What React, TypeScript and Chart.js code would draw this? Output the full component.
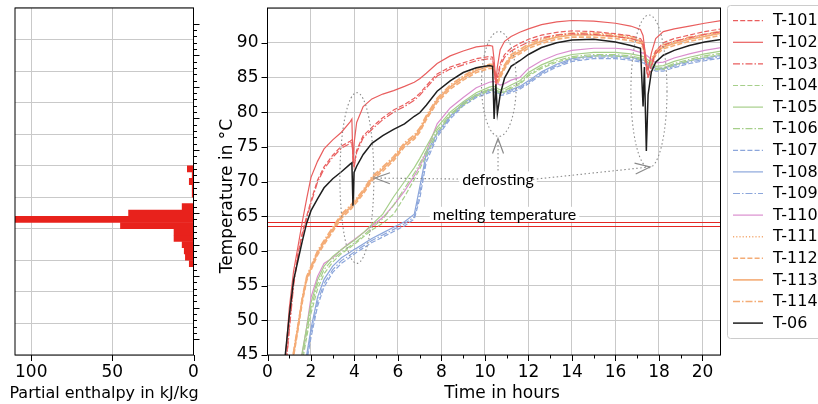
import React, { useEffect, useRef } from "react";
import { Chart, registerables } from "chart.js";
Chart.register(...registerables);

// ---------- DATA ----------
const hours = [0.5, 0.8, 1.0, 1.2, 1.4, 1.6, 1.8, 2.0, 2.3, 2.6, 3.0, 3.4, 3.8, 3.88, 3.93, 3.98, 4.1, 4.4, 4.8, 5.3, 5.8, 6.3, 6.75, 7.0, 7.3, 7.8, 8.4, 9.0, 9.6, 10.2, 10.35, 10.42, 10.5, 10.57, 10.7, 10.9, 11.2, 11.6, 12.0, 12.6, 13.3, 14.0, 15.0, 16.0, 16.7, 17.15, 17.27, 17.33, 17.42, 17.5, 17.65, 17.85, 18.2, 18.7, 19.4, 20.1, 20.9];

const t101 = [28, 42, 49, 55.5, 59.6, 62.6, 65.0, 67.2, 70.2, 72.1, 73.8, 75.1, 75.8, 76.0, 74.0, 72.3, 74.5, 76.6, 77.8, 79.2, 80.3, 81.1, 82.0, 82.7, 83.8, 85.5, 86.5, 87.1, 87.7, 88.0, 87.9, 86.5, 84.0, 85.0, 87.0, 88.3, 89.2, 89.9, 90.5, 91.1, 91.5, 91.7, 91.6, 91.3, 91.0, 90.6, 90.0, 88.8, 86.5, 85.0, 86.8, 88.8, 90.0, 90.6, 91.1, 91.6, 92.0];
const t102 = [30, 43.5, 51.7, 57.1, 60.6, 64.2, 67.5, 70.6, 72.9, 74.7, 76.0, 77.1, 78.6, 79.0, 72.5, 75.5, 78.5, 80.8, 81.9, 82.6, 83.1, 83.7, 84.3, 84.8, 85.6, 87.0, 88.1, 88.8, 89.4, 89.6, 89.5, 87.5, 84.3, 86.5, 89.0, 90.2, 90.9, 91.5, 92.0, 92.6, 93.0, 93.2, 93.1, 92.8, 92.4, 91.9, 91.0, 89.5, 87.0, 86.0, 88.5, 90.6, 91.6, 92.0, 92.4, 92.8, 93.2];
const t103 = [28, 41.5, 48.5, 55.0, 59.2, 62.3, 64.7, 66.9, 69.9, 71.8, 73.5, 74.8, 75.5, 75.7, 73.8, 72.0, 74.2, 76.3, 77.5, 78.9, 80.0, 80.8, 81.7, 82.4, 83.5, 85.2, 86.2, 86.8, 87.4, 87.7, 87.6, 86.2, 83.8, 84.7, 86.6, 87.9, 88.8, 89.5, 90.1, 90.7, 91.1, 91.3, 91.2, 90.9, 90.6, 90.2, 89.6, 88.4, 86.2, 84.8, 86.5, 88.4, 89.6, 90.2, 90.7, 91.2, 91.6];
const t104 = [18, 25, 30, 35, 39.5, 44.0, 47.5, 51.0, 54.5, 56.7, 58.4, 59.6, 60.5, 60.7, 60.8, 60.9, 61.2, 62.0, 63.0, 64.0, 65.3, 67.8, 70.3, 71.8, 73.8, 77.0, 79.5, 81.0, 82.3, 83.1, 83.2, 83.2, 83.1, 82.9, 82.7, 82.9, 83.4, 84.0, 85.2, 86.3, 87.2, 87.8, 88.1, 88.1, 87.9, 87.6, 87.5, 87.4, 87.2, 87.0, 86.6, 86.1, 86.2, 86.8, 87.4, 87.9, 88.3];
const t105 = [20, 27, 32, 37, 41, 45.5, 49.0, 52.5, 55.8, 57.8, 59.2, 60.2, 61.1, 61.3, 61.4, 61.5, 61.8, 62.6, 63.8, 65.3, 67.8, 70.0, 72.0, 73.3, 75.0, 77.8, 80.0, 81.5, 82.8, 83.6, 83.7, 83.7, 83.6, 83.4, 83.2, 83.4, 83.9, 84.5, 85.7, 86.8, 87.7, 88.3, 88.6, 88.6, 88.4, 88.1, 88.0, 87.9, 87.7, 87.5, 87.1, 86.6, 86.7, 87.3, 87.9, 88.4, 88.8];
const t106 = [19, 26, 31, 36, 40, 44.5, 48.2, 51.8, 55.2, 57.3, 58.8, 59.8, 60.7, 60.9, 61.0, 61.1, 61.4, 62.2, 63.3, 64.6, 66.6, 69.0, 71.2, 72.6, 74.4, 77.4, 79.7, 81.2, 82.5, 83.3, 83.4, 83.4, 83.3, 83.1, 82.9, 83.1, 83.6, 84.2, 85.4, 86.5, 87.4, 88.0, 88.3, 88.3, 88.1, 87.8, 87.7, 87.6, 87.4, 87.2, 86.8, 86.3, 86.4, 87.0, 87.6, 88.1, 88.5];
const t107 = [14, 21, 27, 32, 36, 40, 44, 47.5, 52.0, 54.8, 56.9, 58.2, 59.1, 59.3, 59.4, 59.5, 59.8, 60.4, 61.2, 62.0, 62.8, 63.6, 64.6, 67.5, 72.8, 76.4, 79.0, 80.9, 82.1, 82.8, 82.9, 82.9, 82.8, 82.6, 82.4, 82.5, 82.8, 83.3, 84.1, 85.4, 86.5, 87.3, 87.7, 87.7, 87.5, 87.2, 87.1, 87.0, 86.8, 86.6, 86.3, 85.9, 85.9, 86.4, 87.0, 87.4, 87.8];
const t108 = [15, 22, 28, 33, 37, 41, 45, 48.8, 53.3, 55.9, 57.8, 59.0, 59.8, 60.0, 60.1, 60.2, 60.4, 61.0, 61.8, 62.6, 63.4, 64.2, 65.3, 69.2, 74.0, 77.0, 79.4, 81.3, 82.5, 83.2, 83.3, 83.3, 83.2, 83.0, 82.8, 82.9, 83.2, 83.7, 84.5, 85.8, 86.9, 87.7, 88.1, 88.1, 87.9, 87.6, 87.5, 87.4, 87.2, 87.0, 86.7, 86.3, 86.3, 86.8, 87.4, 87.8, 88.2];
const t109 = [14.5, 21.5, 27.5, 32.5, 36.5, 40.5, 44.5, 48.1, 52.6, 55.3, 57.3, 58.6, 59.4, 59.6, 59.7, 59.8, 60.1, 60.7, 61.5, 62.3, 63.1, 63.9, 64.9, 68.3, 73.4, 76.7, 79.2, 81.1, 82.3, 83.0, 83.1, 83.1, 83.0, 82.8, 82.6, 82.7, 83.0, 83.5, 84.3, 85.6, 86.7, 87.5, 87.9, 87.9, 87.7, 87.4, 87.3, 87.2, 87.0, 86.8, 86.5, 86.1, 86.1, 86.6, 87.2, 87.6, 88.0];
const t110 = [20, 28, 33, 38, 42, 45.2, 49.0, 53.3, 56.3, 58.2, 59.0, 60.2, 61.2, 61.4, 61.5, 61.6, 61.9, 62.6, 63.6, 64.8, 66.6, 68.6, 70.8, 72.2, 74.3, 78.3, 80.6, 82.1, 83.5, 84.3, 84.4, 84.4, 84.3, 84.1, 83.9, 84.1, 84.6, 85.0, 86.3, 87.4, 88.3, 88.9, 89.2, 89.2, 89.0, 88.6, 88.5, 88.4, 88.2, 88.0, 87.6, 87.1, 87.2, 87.8, 88.4, 88.9, 89.3];
const t111 = [25, 36.2, 41.2, 45.3, 49.1, 53.1, 56.1, 57.6, 59.8, 61.3, 63.2, 65.1, 66.3, 66.6, 66.8, 67.0, 67.4, 68.6, 70.5, 71.9, 73.4, 75.4, 76.5, 77.5, 79.3, 81.8, 83.7, 85.0, 86.1, 86.7, 86.7, 86.1, 85.1, 84.4, 85.3, 86.6, 88.1, 88.8, 89.6, 90.3, 90.9, 91.2, 91.2, 91.0, 90.7, 90.3, 89.7, 88.9, 87.3, 86.6, 87.4, 88.6, 89.5, 90.0, 90.6, 91.0, 91.5];
const t112 = [24.5, 35.5, 40.5, 44.8, 48.6, 52.6, 55.7, 57.2, 59.4, 60.9, 62.8, 64.7, 65.9, 66.2, 66.4, 66.6, 67.0, 68.2, 70.1, 71.5, 73.0, 75.0, 76.1, 77.1, 78.9, 81.4, 83.3, 84.6, 85.7, 86.3, 86.3, 85.7, 84.7, 84.0, 84.9, 86.2, 87.7, 88.4, 89.2, 89.9, 90.5, 90.8, 90.8, 90.6, 90.3, 89.9, 89.3, 88.5, 86.9, 86.2, 87.0, 88.2, 89.1, 89.6, 90.2, 90.6, 91.1];
const t113 = [25, 36, 41, 45.2, 49.0, 53.0, 56.0, 57.5, 59.7, 61.2, 63.1, 65.0, 66.2, 66.5, 66.7, 66.9, 67.3, 68.5, 70.4, 71.8, 73.3, 75.3, 76.4, 77.4, 79.2, 81.7, 83.6, 84.9, 86.0, 86.6, 86.6, 86.0, 85.0, 84.3, 85.2, 86.5, 88.0, 88.7, 89.5, 90.2, 90.8, 91.1, 91.1, 90.9, 90.6, 90.2, 89.6, 88.8, 87.2, 86.5, 87.3, 88.5, 89.4, 89.9, 90.5, 90.9, 91.4];
const t114 = [25.5, 36.5, 41.5, 45.5, 49.3, 53.3, 56.3, 57.8, 60.0, 61.5, 63.4, 65.3, 66.5, 66.8, 67.0, 67.2, 67.6, 68.8, 70.7, 72.1, 73.6, 75.6, 76.7, 77.7, 79.5, 82.0, 83.9, 85.2, 86.3, 86.9, 86.9, 86.3, 85.3, 84.6, 85.5, 86.8, 88.3, 89.0, 89.8, 90.5, 91.1, 91.4, 91.4, 91.2, 90.9, 90.5, 89.9, 89.1, 87.5, 86.8, 87.6, 88.8, 89.7, 90.2, 90.8, 91.2, 91.7];
const t06 = [30, 44.5, 50.6, 55.8, 58.6, 61.4, 64.0, 65.8, 67.5, 69.1, 70.4, 71.4, 72.5, 72.7, 66.5, 71.3, 72.2, 73.9, 75.5, 76.6, 77.5, 78.3, 79.4, 79.9, 81.0, 83.0, 84.5, 85.7, 86.4, 86.7, 86.6, 79.0, 84.0, 79.8, 82.5, 84.9, 86.6, 87.4, 88.3, 89.3, 90.0, 90.4, 90.5, 90.1, 89.6, 89.2, 80.8, 86.5, 74.4, 82.5, 85.8, 87.2, 88.2, 88.9, 89.6, 90.1, 90.5];

const seriesLabels = ["T-101", "T-102", "T-103", "T-104", "T-105", "T-106", "T-107", "T-108", "T-109", "T-110", "T-111", "T-112", "T-113", "T-114", "T-06"];
const seriesValues = [t101, t102, t103, t104, t105, t106, t107, t108, t109, t110, t111, t112, t113, t114, t06];

const meltingBand = [63.65, 64.1];

const enthalpyTemps = [57, 58, 59, 60, 61, 62, 63, 64, 65, 66, 67, 68, 69, 70, 71, 72];
const enthalpyValues = [2.6, 5.0, 5.7, 7.0, 12, 12, 45, 110.5, 40, 7, 0, 0.8, 0.8, 2.6, 0.8, 3.8];

const timeTicks = [0, 2, 4, 6, 8, 10, 12, 14, 16, 18, 20];
const tempTicks = [45, 50, 55, 60, 65, 70, 75, 80, 85, 90];
const enthalpyTicks = [0, 50, 100];

// ---------- STYLES ----------
const RED = "rgb(233,94,94)";
const GREEN = "rgb(166,207,138)";
const BLUE = "rgb(140,166,219)";
const PINK = "rgb(218,142,206)";
const ORANGE = "rgb(244,172,118)";
const BLACK = "#1e1e1e";
const SOLID: number[] = [];
const DASHED = [5, 2.2];
const DASHDOT = [7, 2, 1.5, 2];
const DOTTED = [1.2, 2];
const seriesStyle = [
  { c: RED, d: DASHED, w: 1.2 },
  { c: RED, d: SOLID, w: 1.2 },
  { c: RED, d: DASHDOT, w: 1.2 },
  { c: GREEN, d: DASHED, w: 1.2 },
  { c: GREEN, d: SOLID, w: 1.2 },
  { c: GREEN, d: DASHDOT, w: 1.2 },
  { c: BLUE, d: DASHED, w: 1.2 },
  { c: BLUE, d: SOLID, w: 1.2 },
  { c: BLUE, d: DASHDOT, w: 1.2 },
  { c: PINK, d: SOLID, w: 1.2 },
  { c: ORANGE, d: DOTTED, w: 1.6 },
  { c: ORANGE, d: DASHED, w: 1.6 },
  { c: ORANGE, d: SOLID, w: 1.6 },
  { c: ORANGE, d: DASHDOT, w: 1.6 },
  { c: BLACK, d: SOLID, w: 1.5 },
];

const FONT = "'DejaVu Sans', sans-serif";
const ANNOT_FONT = "Lato, 'Open Sans', sans-serif";
const GRID = "#c9c9c9";
const ANNOT_GRAY = "#8a8a8a";

function dottedLine(ctx: CanvasRenderingContext2D, x0: number, y0: number, x1: number, y1: number) {
  ctx.save();
  ctx.setLineDash([1.5, 2.5]);
  ctx.strokeStyle = ANNOT_GRAY;
  ctx.lineWidth = 1.1;
  ctx.beginPath();
  ctx.moveTo(x0, y0);
  ctx.lineTo(x1, y1);
  ctx.stroke();
  ctx.restore();
}

function arrowHead(ctx: CanvasRenderingContext2D, x0: number, y0: number, x1: number, y1: number) {
  const ang = Math.atan2(y1 - y0, x1 - x0);
  const len = 15, half = 5.5;
  const bx = x1 - len * Math.cos(ang), by = y1 - len * Math.sin(ang);
  const px = -Math.sin(ang) * half, py = Math.cos(ang) * half;
  ctx.save();
  ctx.setLineDash([]);
  ctx.strokeStyle = ANNOT_GRAY;
  ctx.lineWidth = 1.2;
  ctx.beginPath();
  ctx.moveTo(bx + px, by + py);
  ctx.lineTo(x1, y1);
  ctx.lineTo(bx - px, by - py);
  ctx.stroke();
  ctx.restore();
}

const mainDecor = {
  id: "mainDecor",
  beforeDatasetsDraw(chart: any) {
    const { ctx, chartArea: a, scales } = chart;
    const x = scales.x, y = scales.y;
    ctx.save();
    // melting temperature band
    ctx.strokeStyle = "rgb(228,40,36)";
    ctx.lineWidth = 1;
    for (const v of meltingBand) {
      const py = Math.round(y.getPixelForValue(v)) + 0.5;
      ctx.beginPath();
      ctx.moveTo(a.left, py);
      ctx.lineTo(a.right, py);
      ctx.stroke();
    }
    // labels with white background
    ctx.font = `16px ${ANNOT_FONT}`;
    ctx.textBaseline = "middle";
    ctx.textAlign = "center";
    const labels = [
      { text: "melting temperature", cx: x.getPixelForValue(10.9), cy: y.getPixelForValue(65.2) },
      { text: "defrosting", cx: x.getPixelForValue(10.6), cy: y.getPixelForValue(70.3) },
    ];
    for (const l of labels) {
      const w = ctx.measureText(l.text).width;
      ctx.fillStyle = "#fff";
      ctx.fillRect(l.cx - w / 2 - 3, l.cy - 8, w + 6, 15);
      ctx.fillStyle = "#000";
      ctx.fillText(l.text, l.cx, l.cy);
    }
    ctx.restore();
  },
  afterDatasetsDraw(chart: any) {
    const { ctx, scales } = chart;
    const x = scales.x, y = scales.y;
    const ellipses = [
      { t: 4.11, v: 70.5, rt: 0.78, rv: 12.3 },
      { t: 10.64, v: 84.05, rt: 0.8, rv: 7.56 },
      { t: 17.54, v: 83.0, rt: 0.83, rv: 11.0 },
    ];
    ctx.save();
    ctx.setLineDash([1.5, 2.5]);
    ctx.strokeStyle = ANNOT_GRAY;
    ctx.lineWidth = 1.1;
    for (const e of ellipses) {
      const cx = x.getPixelForValue(e.t), cy = y.getPixelForValue(e.v);
      const rx = x.getPixelForValue(e.t + e.rt) - cx;
      const ry = cy - y.getPixelForValue(e.v + e.rv);
      ctx.beginPath();
      ctx.ellipse(cx, cy, rx, ry, 0, 0, Math.PI * 2);
      ctx.stroke();
    }
    ctx.restore();
    // arrows from the "defrosting" label
    const arrows = [
      { t0: 8.76, v0: 70.36, t1: 4.94, v1: 70.5 },
      { t0: 10.6, v0: 71.6, t1: 10.6, v1: 76.2 },
      { t0: 12.2, v0: 70.3, t1: 17.59, v1: 72.1 },
    ];
    for (const ar of arrows) {
      const x0 = x.getPixelForValue(ar.t0), y0 = y.getPixelForValue(ar.v0);
      const x1 = x.getPixelForValue(ar.t1), y1 = y.getPixelForValue(ar.v1);
      dottedLine(ctx, x0, y0, x1, y1);
      arrowHead(ctx, x0, y0, x1, y1);
    }
  },
  afterDraw(chart: any) {
    const { ctx, chartArea: a, scales } = chart;
    const x = scales.x, y = scales.y;
    ctx.save();
    // frame
    ctx.strokeStyle = "#000";
    ctx.lineWidth = 1;
    ctx.strokeRect(a.left, a.top, a.right - a.left, a.bottom - a.top);
    // ticks
    ctx.beginPath();
    for (let h = 0; h <= 20; h++) {
      const px = Math.round(x.getPixelForValue(h)) + 0.5;
      ctx.moveTo(px, a.bottom);
      ctx.lineTo(px, a.bottom + (h % 2 === 0 ? 6 : 3.5));
    }
    for (const v of tempTicks) {
      const py = Math.round(y.getPixelForValue(v)) + 0.5;
      ctx.moveTo(a.left, py);
      ctx.lineTo(a.left - 6, py);
    }
    ctx.stroke();
    // axis titles
    ctx.fillStyle = "#000";
    ctx.font = `17px ${FONT}`;
    ctx.textAlign = "center";
    ctx.textBaseline = "middle";
    ctx.fillText("Time in hours", 302, 394);
    ctx.save();
    ctx.translate(28, 196);
    ctx.rotate(-Math.PI / 2);
    ctx.fillText("Temperature in °C", 0, 0);
    ctx.restore();
    // legend
    const lx = 527.5, ly = 5.5;
    ctx.fillStyle = "rgba(255,255,255,0.85)";
    ctx.strokeStyle = "#cccccc";
    ctx.lineWidth = 1;
    ctx.beginPath();
    (ctx as any).roundRect(lx, ly, 110, 333, 3);
    ctx.fill();
    ctx.stroke();
    chart.data.datasets.forEach((ds: any, i: number) => {
      const ry = 20.7 + i * 21.6;
      ctx.save();
      ctx.strokeStyle = ds.borderColor;
      ctx.lineWidth = ds.borderWidth;
      ctx.setLineDash(ds.borderDash || []);
      ctx.beginPath();
      ctx.moveTo(533, ry);
      ctx.lineTo(563, ry);
      ctx.stroke();
      ctx.restore();
      ctx.fillStyle = "#000";
      ctx.font = `16px ${FONT}`;
      ctx.textAlign = "left";
      ctx.textBaseline = "middle";
      ctx.fillText(ds.label, 573, ry + 0.5);
    });
    ctx.restore();
  },
};

const barDecor = {
  id: "barDecor",
  afterDraw(chart: any) {
    const { ctx, chartArea: a, scales } = chart;
    const x = scales.x, y = scales.y;
    ctx.save();
    ctx.strokeStyle = "#000";
    ctx.lineWidth = 1;
    ctx.strokeRect(a.left, a.top, a.right - a.left, a.bottom - a.top);
    ctx.beginPath();
    for (let v = 45; v <= 95; v++) {
      const py = Math.round(y.getPixelForValue(v)) + 0.5;
      ctx.moveTo(a.right, py);
      ctx.lineTo(a.right + (v % 5 === 0 ? 6 : 3.5), py);
    }
    for (const v of enthalpyTicks) {
      const px = Math.round(x.getPixelForValue(v)) + 0.5;
      ctx.moveTo(px, a.bottom);
      ctx.lineTo(px, a.bottom + 6);
    }
    ctx.stroke();
    ctx.fillStyle = "#000";
    ctx.font = `16px ${FONT}`;
    ctx.textAlign = "center";
    ctx.textBaseline = "middle";
    ctx.fillText("Partial enthalpy in kJ/kg", 104, 394);
    ctx.restore();
  },
};

export default function App() {
  const mainRef = useRef<HTMLCanvasElement>(null);
  const barRef = useRef<HTMLCanvasElement>(null);

  useEffect(() => {
    const datasets = seriesLabels.map((label, i) => ({
      label,
      data: hours.map((h, j) => ({ x: h, y: seriesValues[i][j] })),
      borderColor: seriesStyle[i].c,
      borderDash: seriesStyle[i].d,
      borderWidth: seriesStyle[i].w,
      pointRadius: 0,
      tension: 0,
      fill: false,
      order: label === "T-06" ? -1 : i,
    }));

    const main = new Chart(mainRef.current!, {
      type: "line",
      data: { datasets },
      options: {
        responsive: false,
        animation: false,
        events: [],
        layout: { autoPadding: false, padding: { top: 8, right: 97.5, left: 0, bottom: 0 } },
        plugins: { legend: { display: false }, tooltip: { enabled: false } },
        scales: {
          x: {
            type: "linear",
            min: 0,
            max: 20.83,
            afterFit: (s: any) => { s.height = 49; s.paddingLeft = 0; s.paddingRight = 0; },
            afterBuildTicks: (s: any) => { s.ticks = timeTicks.map((v) => ({ value: v })); },
            ticks: { font: { family: FONT, size: 17 }, color: "#000", padding: 7, maxRotation: 0 },
            grid: { color: GRID, lineWidth: 1, drawTicks: false },
            border: { display: false },
          },
          y: {
            type: "linear",
            min: 45,
            max: 95,
            afterFit: (s: any) => { s.width = 67.5; s.paddingTop = 0; s.paddingBottom = 0; },
            afterBuildTicks: (s: any) => { s.ticks = [...tempTicks, 95].map((v) => ({ value: v })); },
            ticks: {
              font: { family: FONT, size: 17 },
              color: "#000",
              padding: 9,
              callback: (v: any) => (v >= 95 ? "" : String(v)),
            },
            grid: { color: GRID, lineWidth: 1, drawTicks: false },
            border: { display: false },
          },
        },
      },
      plugins: [mainDecor],
    });

    const bar = new Chart(barRef.current!, {
      type: "bar",
      data: {
        datasets: [
          {
            data: enthalpyTemps.map((t, i) => ({ x: enthalpyValues[i], y: t })),
            backgroundColor: "rgb(232,34,28)",
            borderWidth: 0,
            barThickness: 6.1,
          },
        ],
      },
      options: {
        indexAxis: "y",
        responsive: false,
        animation: false,
        events: [],
        layout: { autoPadding: false, padding: { top: 8, left: 15, right: 0, bottom: 0 } },
        plugins: { legend: { display: false }, tooltip: { enabled: false } },
        scales: {
          x: {
            type: "linear",
            reverse: true,
            min: 0,
            max: 110,
            afterFit: (s: any) => { s.height = 49; },
            afterBuildTicks: (s: any) => { s.ticks = enthalpyTicks.map((v) => ({ value: v })); },
            ticks: { font: { family: FONT, size: 17 }, color: "#000", padding: 7, maxRotation: 0 },
            grid: { color: GRID, lineWidth: 1, drawTicks: false },
            border: { display: false },
          },
          y: {
            type: "linear",
            position: "right",
            min: 45,
            max: 95,
            afterFit: (s: any) => { s.width = 11.5; },
            afterBuildTicks: (s: any) => { s.ticks = [...tempTicks, 95].map((v) => ({ value: v })); },
            ticks: { display: false },
            grid: { color: GRID, lineWidth: 1, drawTicks: false },
            border: { display: false },
          },
        },
      },
      plugins: [barDecor],
    });

    return () => {
      main.destroy();
      bar.destroy();
    };
  }, []);

  return (
    <div style={{ position: "absolute", left: 0, top: 0, width: 818, height: 404, background: "#fff", overflow: "hidden" }}>
      <canvas ref={barRef} width={205} height={404} style={{ position: "absolute", left: 0, top: 0, width: 205, height: 404 }} />
      <canvas ref={mainRef} width={618} height={404} style={{ position: "absolute", left: 200, top: 0, width: 618, height: 404 }} />
    </div>
  );
}
